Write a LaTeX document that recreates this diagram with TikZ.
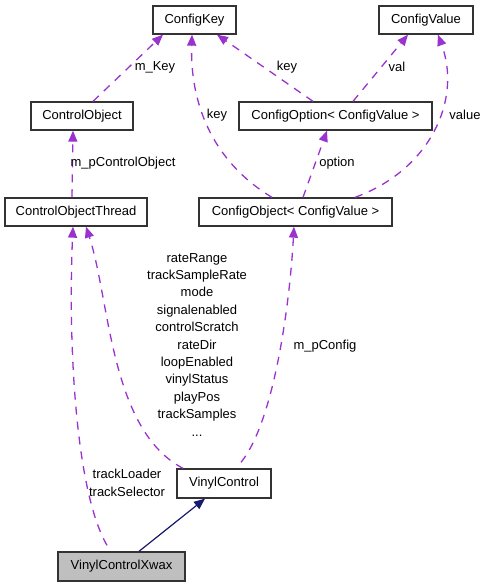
\documentclass[tikz,border=0pt]{standalone}
\usepackage{fontspec}
\setmainfont{Liberation Sans}
\usetikzlibrary{arrows.meta}
\definecolor{edgepurple}{HTML}{9A32CD}
\definecolor{edgenavy}{HTML}{191970}
\definecolor{boxgray}{HTML}{BFBFBF}
\begin{document}
\begin{tikzpicture}[x=1pt,y=-1pt,
  cls/.style={draw=black!80, line width=1.3pt, fill=white, inner sep=0pt, minimum height=28pt,
    font=\fontsize{13}{15}\selectfont},
  usage/.style={draw=edgepurple, line width=1.3pt, dash pattern=on 8pt off 7pt,
    -{Triangle[length=11pt,width=9pt]}, fill=none},
  inherit/.style={draw=edgenavy, line width=1.2pt, -{Triangle[length=11pt,width=9pt]}},
  lbl/.style={inner sep=0pt, font=\fontsize{13}{17.4}\selectfont, align=center}
]
\useasboundingbox (0,0) rectangle (488,587);

\node[cls, minimum width=83pt] (ck) at (194.5,20) {ConfigKey};
\node[cls, minimum width=94pt] (cv) at (426,20) {ConfigValue};
\node[cls, minimum width=102pt] (co) at (82,116) {ControlObject};
\node[cls, minimum width=193pt] (copt) at (335.5,116) {ConfigOption< ConfigValue >};
\node[cls, minimum width=142pt] (cot) at (76,212) {ControlObjectThread};
\node[cls, minimum width=193pt] (cobj) at (295.5,212) {ConfigObject< ConfigValue >};
\node[cls, minimum width=94pt, minimum height=29pt] (vc) at (224,483.5) {VinylControl};
\node[cls, minimum width=127pt, minimum height=29pt, fill=boxgray] (vx) at (121.5,566.5) {VinylControlXwax};

% edges to ConfigKey
\draw[usage] ([xshift=11pt]co.north) -- ([xshift=-31.5pt]ck.south);
\draw[usage] ([xshift=-23.5pt]cobj.north) .. controls (210,160) and (190,100) .. ([xshift=-2.5pt]ck.south);
\draw[usage] ([xshift=-22.5pt]copt.north) -- ([xshift=22.5pt]ck.south);
% edges to ConfigValue
\draw[usage] ([xshift=17.5pt]copt.north) -- ([xshift=-18pt]cv.south);
\draw[usage] ([xshift=59.5pt]cobj.north) .. controls (430,170) and (462,100) .. ([xshift=12pt]cv.south);
% option
\draw[usage] ([xshift=7.5pt]cobj.north) -- ([xshift=-8.5pt]copt.south);
% m_pControlObject
\draw[usage] ([xshift=-4pt]cot.north) -- ([xshift=-9pt]co.south);
% VinylControl -> ControlObjectThread
\draw[usage] ([xshift=-41pt]vc.north) .. controls (110,430) and (110,300) .. ([xshift=10pt]cot.south);
% VinylControl -> ConfigObject
\draw[usage] ([xshift=17pt,yshift=6pt]vc.north) .. controls (275,420) and (290,300) .. ([xshift=-1.5pt]cobj.south);
% Xwax -> ControlObjectThread
\draw[usage] ([xshift=-14.5pt,yshift=6pt]vx.north) .. controls (75,490) and (68,340) .. ([xshift=-3pt]cot.south);
% inheritance
\draw[inherit] ([xshift=17.5pt]vx.north) -- ([xshift=-19pt]vc.south);

% labels
\node[lbl] (l1) at (155,67) {m\_Key};
\node[lbl] (l2) at (287,67) {key};
\node[lbl] (l3) at (397,67) {val};
\node[lbl] (l4) at (217,115) {key};
\node[lbl] (l5) at (465,115) {value};
\node[lbl] (l6) at (337,163) {option};
\node[lbl] (l7) at (123,163) {m\_pControlObject};
\node[lbl, anchor=north] (l8) at (197,253) {rateRange\\trackSampleRate\\mode\\signalenabled\\controlScratch\\rateDir\\loopEnabled\\vinylStatus\\playPos\\trackSamples\\...};
\node[lbl] (l9) at (325,346) {m\_pConfig};
\node[lbl] (l10) at (127,483) {trackLoader\\trackSelector};
\end{tikzpicture}
\end{document}
